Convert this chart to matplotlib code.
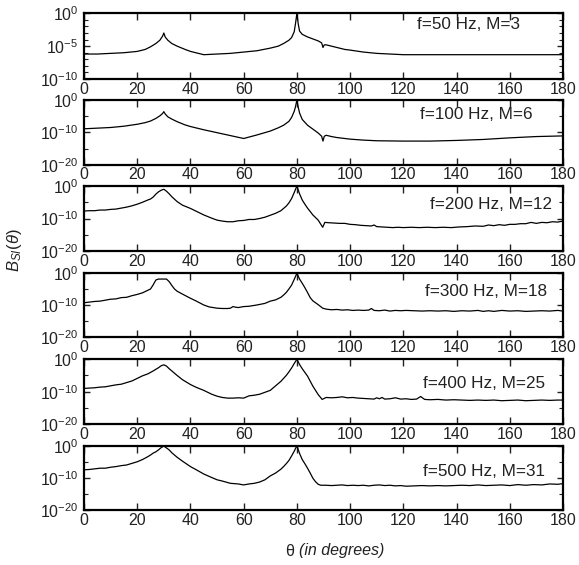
import numpy as np
import matplotlib
matplotlib.use("Agg")
import matplotlib.pyplot as plt

plt.rcParams['font.family'] = ['Liberation Sans', 'DejaVu Sans']
plt.rcParams['mathtext.fontset'] = 'custom'
plt.rcParams['mathtext.rm'] = 'Liberation Sans'
plt.rcParams['mathtext.it'] = 'Liberation Sans:italic'
plt.rcParams['mathtext.bf'] = 'Liberation Sans:bold'

labels = ["f=50 Hz, M=3", "f=100 Hz, M=6", "f=200 Hz, M=12",
          "f=300 Hz, M=18", "f=400 Hz, M=25", "f=500 Hz, M=31"]

# angles (deg) and log10 of B values
th1 = [0, 5, 10, 15, 20, 23, 25, 27, 28.5, 29.5, 30, 30.5, 31.5, 33, 35, 38, 40, 43, 45, 50, 55, 60, 65, 70,
       73, 75, 77, 78, 79, 79.5, 80, 80.5, 81, 82, 84, 86, 88, 89.3, 89.8, 90.3, 91, 93, 95, 98, 100, 105,
       110, 115, 120, 130, 140, 150, 160, 170, 180]
e1 = [-6.2, -6.2, -6.1, -6.0, -5.8, -5.5, -5.1, -4.6, -4.1, -3.5, -3.0, -3.6, -4.1, -4.6, -5.0, -5.5, -5.8,
      -6.1, -6.3, -6.2, -6.1, -5.9, -5.7, -5.3, -5.0, -4.6, -4.1, -3.7, -2.8, -1.5, 0.0, -1.6, -2.7, -3.2,
      -3.6, -3.9, -4.2, -4.5, -5.2, -4.8, -4.8, -5.0, -5.2, -5.5, -5.6, -5.9, -6.1, -6.2, -6.3, -6.3, -6.3,
      -6.3, -6.3, -6.3, -6.3]

th2 = [0, 5, 10, 15, 20, 23, 25, 27, 28.5, 29.5, 30, 30.5, 31.5, 33, 35, 38, 40, 45, 50, 55, 60, 65, 70,
       73, 75, 77, 78, 79, 79.5, 80, 80.5, 81, 82, 84, 86, 88, 89.3, 89.8, 90.3, 91, 93, 95, 100, 105, 110,
       120, 130, 140, 150, 160, 170, 180]
e2 = [-8.9, -8.7, -8.5, -8.1, -7.5, -7.0, -6.5, -5.7, -4.9, -4.2, -3.6, -4.3, -5.2, -5.9, -6.7, -7.7, -8.2,
      -9.2, -10.1, -11.0, -11.9, -10.8, -9.6, -8.6, -7.8, -6.6, -5.4, -3.5, -2.0, 0.0, -2.2, -4.0, -6.0,
      -7.8, -9.0, -10.2, -11.2, -12.7, -11.2, -10.9, -11.3, -11.6, -12.1, -12.4, -12.6, -12.7, -12.7,
      -12.5, -12.2, -11.7, -11.3, -11.1]

th3 = [0, 2, 4, 6, 8, 10, 12, 14, 16, 18, 20, 22, 24, 25, 26, 27, 28, 29, 30, 31, 32, 33, 35, 37, 40, 43,
       45, 48, 50, 52, 54, 56, 58, 60, 62, 64, 66, 68, 70, 72, 74, 75, 76, 77, 78, 79, 80, 81, 82, 83, 84,
       86, 88, 89.7, 90.5, 92, 94, 96, 98, 100, 102, 104, 106, 108, 109, 110, 112, 114, 116, 118, 120, 123,
       126, 129, 132, 135, 138, 141, 144, 147, 150, 152, 154, 156, 158, 160, 162, 164, 166, 168, 170, 172,
       174, 176, 178, 180]
e3 = [-7.7, -7.6, -7.6, -7.4, -7.4, -7.2, -7.1, -6.8, -6.5, -6.1, -5.6, -5.0, -4.3, -4.0, -3.4, -2.5, -1.8,
      -1.3, -1.0, -1.6, -2.4, -3.3, -4.8, -5.9, -6.9, -8.1, -8.9, -9.9, -10.5, -10.8, -11.0, -11.0, -10.7,
      -10.6, -10.3, -10.3, -10.0, -9.6, -9.0, -8.4, -7.6, -6.9, -6.2, -5.2, -3.9, -2.0, 0.0, -2.4, -4.3,
      -5.6, -6.8, -8.9, -10.5, -12.7, -11.2, -11.3, -11.4, -11.5, -11.5, -11.8, -11.9, -12.1, -12.2, -12.3,
      -12.0, -12.5, -12.6, -12.7, -12.8, -12.7, -12.8, -12.7, -12.8, -12.7, -12.8, -12.7, -12.8, -12.6,
      -12.5, -12.3, -12.4, -12.0, -12.2, -11.9, -12.1, -11.8, -11.8, -11.6, -11.6, -11.2, -11.5, -11.2,
      -11.3, -11.0, -11.1, -10.8]

th4 = [0, 2, 4, 6, 8, 10, 12, 14, 16, 18, 20, 22, 24, 25, 26, 27, 28, 29, 30, 31, 32, 33, 34, 35, 37, 40,
       42, 45, 47, 50, 52, 54, 55, 56, 57, 58, 60, 62, 65, 68, 70, 72, 74, 75, 76, 77, 78, 79, 80, 81, 82,
       83, 84, 85, 86, 88, 89.7, 91, 93, 95, 97, 99, 101, 103, 105, 107, 108, 109, 111, 113, 115, 117, 119,
       121, 124, 127, 130, 133, 136, 139, 142, 145, 148, 150, 152, 154, 157, 160, 163, 166, 169, 172, 175,
       178, 180]
e4 = [-9.2, -9.0, -8.8, -8.7, -8.4, -8.1, -8.0, -7.6, -7.5, -7.0, -6.6, -6.1, -5.3, -4.9, -3.6, -2.1, -1.8,
      -1.8, -1.8, -1.8, -2.6, -3.8, -4.9, -5.6, -6.5, -7.8, -8.6, -9.9, -10.5, -10.9, -11.0, -11.0, -10.9,
      -10.4, -10.6, -10.7, -10.4, -10.3, -9.9, -9.4, -8.7, -8.3, -7.5, -6.8, -6.0, -4.9, -3.7, -1.9, 0.0,
      -1.8, -3.1, -4.5, -6.0, -7.6, -8.6, -9.8, -10.9, -11.2, -11.4, -11.3, -11.5, -11.4, -11.6, -11.5,
      -11.6, -11.5, -11.0, -11.6, -11.7, -11.5, -11.8, -11.6, -11.7, -11.6, -11.7, -11.8, -11.7, -11.8,
      -11.7, -11.9, -11.7, -11.8, -11.6, -11.9, -11.7, -11.9, -11.6, -11.8, -11.7, -11.9, -11.8, -11.7,
      -11.8, -11.6, -11.8]

th5 = [0, 2, 4, 6, 8, 10, 12, 14, 16, 18, 20, 22, 24, 26, 28, 29, 30, 31, 32, 34, 35, 37, 40, 42, 45, 48,
       50, 52, 54, 56, 58, 60, 62, 64, 66, 68, 70, 72, 74, 76, 77, 78, 79, 80, 81, 82, 84, 86, 88, 89.5,
       91, 93, 95, 97, 99, 101, 103, 105, 107, 109, 110, 111, 112, 113, 115, 117, 119, 121, 123, 125, 126.5,
       128, 130, 133, 136, 139, 142, 145, 148, 151, 154, 157, 160, 163, 166, 169, 172, 175, 178, 180]
e5 = [-9.0, -8.9, -8.8, -8.6, -8.5, -8.2, -7.9, -7.7, -7.2, -6.7, -5.9, -5.1, -4.5, -3.6, -2.6, -2.0, -1.7,
      -2.1, -2.9, -4.3, -5.0, -6.3, -7.8, -8.6, -9.6, -10.8, -11.4, -11.8, -12.0, -12.0, -11.9, -12.0,
      -11.3, -11.1, -10.8, -10.2, -9.6, -8.2, -6.8, -5.0, -3.9, -2.7, -1.3, 0.0, -1.6, -2.9, -5.2, -8.3,
      -10.9, -12.4, -11.8, -11.9, -11.8, -11.6, -11.9, -11.8, -12.0, -12.1, -12.2, -12.3, -11.9, -12.2,
      -11.8, -12.3, -12.2, -11.9, -12.3, -12.2, -12.4, -12.3, -11.5, -12.4, -12.5, -12.4, -12.6, -12.5,
      -12.6, -12.7, -12.6, -12.7, -12.6, -12.8, -12.7, -12.6, -12.8, -12.7, -12.6, -12.7, -12.6, -12.6]

th6 = [0, 2, 4, 6, 8, 10, 12, 14, 16, 18, 20, 22, 24, 25, 26, 27, 28, 29, 30, 31, 32, 33, 35, 37, 40, 42,
       45, 48, 50, 52, 55, 58, 60, 62, 64, 66, 68, 70, 72, 74, 75, 76, 77, 78, 79, 80, 81, 82, 83, 84, 85,
       86, 87, 88, 89, 91, 93, 95, 97, 99, 101, 103, 105, 107, 109, 111, 113, 115, 117, 119, 121, 124, 127,
       130, 133, 136, 139, 142, 145, 148, 151, 154, 157, 160, 163, 166, 169, 172, 175, 178, 180]
e6 = [-7.5, -7.4, -7.2, -7.0, -7.0, -6.7, -6.5, -6.2, -6.0, -5.5, -5.0, -4.3, -3.4, -2.9, -2.3, -1.9, -1.3,
      -0.6, -0.1, -0.7, -1.3, -2.2, -3.6, -4.8, -6.5, -7.4, -8.8, -9.9, -10.6, -11.0, -11.7, -11.9, -12.2,
      -11.9, -11.7, -11.3, -10.6, -9.4, -8.5, -7.3, -6.5, -5.6, -4.6, -3.2, -1.7, 0.0, -2.4, -4.3, -5.6,
      -7.0, -8.5, -10.1, -11.2, -12.0, -12.3, -12.3, -12.4, -12.3, -12.2, -12.4, -12.3, -12.4, -12.3,
      -12.5, -12.3, -12.2, -12.4, -12.3, -12.5, -12.4, -12.6, -12.5, -12.4, -12.5, -12.4, -12.5, -12.4,
      -12.3, -12.4, -12.2, -12.4, -12.3, -12.2, -12.4, -12.1, -12.3, -12.1, -12.2, -11.9, -12.0, -11.8]

thetas = [th1, th2, th3, th4, th5, th6]
exps = [e1, e2, e3, e4, e5, e6]
xticks = [0, 20, 40, 60, 80, 100, 120, 140, 160, 180]

W, H = 579, 565
fig = plt.figure(figsize=(W / 100, H / 100), dpi=100)
tops = [13.3, 100, 186, 273.3, 359.3, 445.7]
bots = [79, 164.7, 251, 337.3, 424, 510]
left, right = 84, 563
lab_pos = [(0.91, 0.83), (0.937, 0.77), (0.977, 0.71), (0.966, 0.71), (0.962, 0.63), (0.962, 0.60)]
tc = '#222222'

for i in range(6):
    ax = fig.add_axes([left / W, 1 - bots[i] / H, (right - left) / W, (bots[i] - tops[i]) / H])
    ax.plot(thetas[i], 10.0 ** np.array(exps[i]), color='black', lw=0.9)
    ax.set_yscale('log')
    ax.set_xlim(0, 180)
    if i == 0:
        ax.set_ylim(1e-10, 1e0)
        ax.set_yticks([1e0, 1e-5, 1e-10])
        ax.set_yticklabels([r'$10^{0}$', r'$10^{-5}$', r'$10^{-10}$'])
        ax.set_yticks([10.0 ** k for k in range(-9, 0) if k != -5], minor=True)
    else:
        ax.set_ylim(1e-20, 1e0)
        ax.set_yticks([1e0, 1e-10, 1e-20])
        ax.set_yticklabels([r'$10^{0}$', r'$10^{-10}$', r'$10^{-20}$'])
        ax.set_yticks([1e-5, 1e-15], minor=True)
    ax.yaxis.set_minor_formatter(matplotlib.ticker.NullFormatter())
    ax.set_xticks(xticks)
    ax.set_xticklabels([str(t) for t in xticks])
    ax.tick_params(which='both', direction='in', top=True, right=True, labelsize=11.5, colors=tc)
    ax.tick_params(which='major', length=5, width=1.0, pad=2)
    ax.tick_params(which='minor', length=3, width=0.8)
    ax.tick_params(axis='y', which='major', length=4, pad=4)
    for s in ax.spines.values():
        s.set_linewidth(1.6)
    ax.text(lab_pos[i][0], lab_pos[i][1], labels[i], transform=ax.transAxes, ha='right', va='center',
            fontsize=12.3, color=tc)

fig.text(15 / W, 1 - 250 / H, r'$B_{SI}(\theta)$', rotation=90, ha='center', va='center',
         fontsize=12, color=tc)
fig.text(294 / W, 1 - 551 / H, 'θ', ha='right', va='center', fontsize=11.5, color=tc)
fig.text(299 / W, 1 - 551 / H, '(in degrees)', ha='left', va='center', fontsize=11.5,
         fontstyle='italic', color=tc)

fig.savefig('out.png', dpi=100)
